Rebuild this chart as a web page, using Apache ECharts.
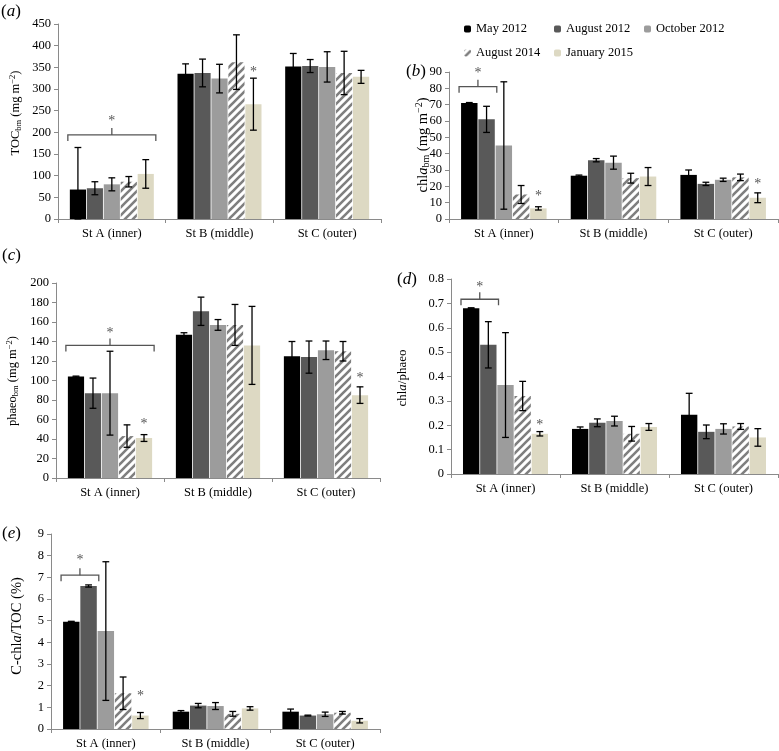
<!DOCTYPE html>
<html><head><meta charset="utf-8">
<script src="https://cdn.jsdelivr.net/npm/echarts@6/dist/echarts.min.js"></script>
<style>html,body{margin:0;padding:0;background:#fff}#c{width:779px;height:751px}</style>
</head><body><div id="c"></div>
<script>
const categories = ['St A (inner)', 'St B (middle)', 'St C (outer)'];
const seriesNames = ['May 2012', 'August 2012', 'October 2012', 'August 2014', 'January 2015'];

// (a) TOC_bm, rows = series, cols = stations
const tocMean = [[68, 335, 352], [71, 337, 353], [80, 324, 351], [86, 362, 337], [104, 265, 328]];
const tocErr  = [[97, 23, 30], [15, 32, 15], [15, 33, 35], [12, 63, 50], [33, 60, 15]];
// (b) chla_bm
const chlMean = [[71, 26.5, 27], [61, 36, 21.5], [45, 34.5, 24], [15, 25, 25.5], [6.5, 26, 13]];
const chlErr  = [[0.3, 0.4, 3], [8, 1, 1], [39, 4, 1], [5.5, 3, 2], [1, 5.5, 3]];
// (c) phaeo_bm
const phaMean = [[104, 147, 125], [87, 171, 124], [87, 157, 131], [43, 157, 130], [41, 136, 85]];
const phaErr  = [[0.5, 2, 15], [15.5, 14.5, 16.5], [43, 5.5, 9.5], [11.5, 21, 10], [3.5, 40, 8.5]];
// (d) chla/phaeo
const ratMean = [[0.68, 0.185, 0.243], [0.53, 0.21, 0.173], [0.365, 0.217, 0.185], [0.32, 0.165, 0.195], [0.165, 0.193, 0.15]];
const ratErr  = [[0.002, 0.008, 0.088], [0.095, 0.016, 0.028], [0.215, 0.02, 0.021], [0.06, 0.03, 0.012], [0.009, 0.014, 0.036]];
// (e) C-chla/TOC (%)
const pctMean = [[4.95, 0.8, 0.8], [6.6, 1.08, 0.62], [4.52, 1.06, 0.68], [1.65, 0.7, 0.75], [0.62, 0.95, 0.38]];
const pctErr  = [[0.02, 0.05, 0.12], [0.05, 0.1, 0.02], [3.2, 0.16, 0.1], [0.75, 0.11, 0.06], [0.14, 0.08, 0.1]];

// significance annotations: bracket [station, fromSeries, toSeries, value, starValue]
const tocBracket = [0, 0, 4, 194, 226];
const chlBracket = [0, 0, 1, 81, 89];
const phaBracket = [0, 0, 4, 136, 148];
const ratBracket = [0, 0, 1, 0.717, 0.765];
const pctBracket = [0, 0, 1, 7.1, 7.8];
// single stars [station, series, value]
const tocStars = [[1, 4, 338]];
const chlStars = [[0, 4, 14], [2, 4, 21.5]];
const phaStars = [[0, 4, 55], [2, 4, 102]];
const ratStars = [[0, 4, 0.198]];
const pctStars = [[0, 4, 1.5]];

// y axis ticks
const yAxes = [
  {max: 450, interval: 50},
  {max: 90, interval: 10},
  {max: 200, interval: 20},
  {max: 0.8, interval: 0.1},
  {max: 9, interval: 1}
];

const FONT = '"Liberation Serif", "DejaVu Serif", serif';

// hatch pattern
const hc = document.createElement('canvas');
hc.width = 8; hc.height = 8;
const hx = hc.getContext('2d');
hx.fillStyle = '#ffffff'; hx.fillRect(0, 0, 8, 8);
hx.strokeStyle = '#7f7f7f'; hx.lineWidth = 2.6;
hx.beginPath();
hx.moveTo(-2, 10); hx.lineTo(10, -2);
hx.moveTo(-6, 6); hx.lineTo(6, -6);
hx.moveTo(2, 14); hx.lineTo(14, 2);
hx.stroke();

const colors = ['#000000', '#595959', '#9c9c9c', {image: hc, repeat: 'repeat'}, '#ddd9c3'];

const grids = [
  {left: 58, top: 24, width: 323, height: 195},
  {left: 449, top: 72, width: 329, height: 147},
  {left: 56, top: 283, width: 324, height: 195},
  {left: 451, top: 279, width: 327, height: 195},
  {left: 51, top: 534, width: 329, height: 195}
];

function makeRich(size) {
  const sub = Math.round(size * 0.68 * 2) / 2;
  const off = Math.round(size * 0.5);
  return {
    n: {fontSize: size, fontFamily: FONT, fill: '#000'},
    i: {fontSize: size, fontFamily: FONT, fill: '#000', fontStyle: 'italic'},
    s: {fontSize: sub, fontFamily: FONT, fill: '#000', padding: [off, 0, 0, 0]},
    u: {fontSize: sub, fontFamily: FONT, fill: '#000', padding: [0, 0, off, 0]}
  };
}
const yNames = [
  '{n|TOC}{s|bm}{n| (mg m}{u|−2}{n|)}',
  '{n|chl}{i|a}{s|bm}{n| (mg m}{u|−2}{n|)}',
  '{n|phaeo}{s|bm}{n| (mg m}{u|−2}{n|)}',
  '{n|chl}{i|a}{n|/phaeo}',
  '{n|C-chl}{i|a}{n|/TOC (%)}'
];
// centre of each rotated y-axis title (page pixels) and its font size
const yNamePos = [[16, 113], [423, 145], [13, 381], [403, 378], [17, 626]];
const yNameSize = [12.5, 14.5, 12.5, 13, 14.5];

const panels = [
  {mean: tocMean, err: tocErr, bracket: tocBracket, stars: tocStars},
  {mean: chlMean, err: chlErr, bracket: chlBracket, stars: chlStars},
  {mean: phaMean, err: phaErr, bracket: phaBracket, stars: phaStars},
  {mean: ratMean, err: ratErr, bracket: ratBracket, stars: ratStars},
  {mean: pctMean, err: pctErr, bracket: pctBracket, stars: pctStars}
];

const CAT_GAP = 0.22, BAR_GAP = 0.05, NS = 5;
function barGeom(api, cat, s) {
  const c = api.coord([cat, 0]);
  const band = api.size([1, 0])[0];
  const w = band * (1 - CAT_GAP) / (NS + (NS - 1) * BAR_GAP);
  const total = NS * w + (NS - 1) * w * BAR_GAP;
  const left = c[0] - total / 2 + s * w * (1 + BAR_GAP);
  return {x: left + w / 2, left: left, right: left + w, w: w};
}

const axisLineStyle = {color: '#8a8a8a', width: 1};

const xAxis = [], yAxis = [], series = [];
grids.forEach((g, k) => {
  xAxis.push({
    type: 'category', gridIndex: k, data: categories,
    axisLine: {lineStyle: axisLineStyle},
    axisTick: {show: true, length: 4, lineStyle: axisLineStyle},
    axisLabel: {fontFamily: FONT, fontSize: 12.5, color: '#000', margin: 8}
  });
  yAxis.push({
    type: 'value', gridIndex: k, min: 0, max: yAxes[k].max, interval: yAxes[k].interval,
    axisLine: {show: true, lineStyle: axisLineStyle},
    axisTick: {show: true, length: 4, lineStyle: axisLineStyle},
    splitLine: {show: false},
    axisLabel: {fontFamily: FONT, fontSize: 12.5, color: '#000', margin: 7}
  });
  const p = panels[k];
  seriesNames.forEach((nm, s) => {
    series.push({
      type: 'bar', name: nm, xAxisIndex: k, yAxisIndex: k,
      data: p.mean[s], barCategoryGap: (CAT_GAP * 100) + '%', barGap: (BAR_GAP * 100) + '%',
      itemStyle: {color: colors[s]}, silent: true
    });
  });
  // error bars
  const errData = [];
  seriesNames.forEach((nm, s) => {
    categories.forEach((c, ci) => {
      const m = p.mean[s][ci], e = p.err[s][ci];
      errData.push([ci, s, Math.max(0, m - e), m + e]);
    });
  });
  series.push({
    type: 'custom', xAxisIndex: k, yAxisIndex: k, data: errData, silent: true, z: 5, clip: false,
    encode: {x: 0, y: [2, 3]},
    renderItem: function (params, api) {
      const ci = api.value(0), s = api.value(1);
      const g = barGeom(api, ci, s);
      const y1 = api.coord([ci, api.value(2)])[1];
      const y2 = api.coord([ci, api.value(3)])[1];
      const st = {stroke: '#000', lineWidth: 1.3};
      const cap = 3.4;
      return {type: 'group', children: [
        {type: 'line', shape: {x1: g.x, y1: y1, x2: g.x, y2: y2}, style: st},
        {type: 'line', shape: {x1: g.x - cap, y1: y1, x2: g.x + cap, y2: y1}, style: st},
        {type: 'line', shape: {x1: g.x - cap, y1: y2, x2: g.x + cap, y2: y2}, style: st}
      ]};
    }
  });
  // bracket + star
  series.push({
    type: 'custom', xAxisIndex: k, yAxisIndex: k, data: [p.bracket], silent: true, z: 6, clip: false,
    encode: {x: 0, y: 3},
    renderItem: function (params, api) {
      const ci = api.value(0);
      const a = barGeom(api, ci, api.value(1));
      const b = barGeom(api, ci, api.value(2));
      const xl = a.left - 2, xr = b.right + 2, xm = (xl + xr) / 2;
      const y = api.coord([ci, api.value(3)])[1];
      const ys = api.coord([ci, api.value(4)])[1];
      const st = {stroke: '#555', lineWidth: 1.3, fill: null};
      return {type: 'group', children: [
        {type: 'polyline', shape: {points: [[xl, y + 6], [xl, y], [xr, y], [xr, y + 6]]}, style: st},
        {type: 'line', shape: {x1: xm, y1: y, x2: xm, y2: y - 7}, style: st},
        {type: 'text', x: xm, y: ys, style: {text: '*', fill: '#555', font: '14px ' + FONT, align: 'center', verticalAlign: 'middle'}}
      ]};
    }
  });
  series.push({
    type: 'custom', xAxisIndex: k, yAxisIndex: k, data: p.stars, silent: true, z: 6, clip: false,
    encode: {x: 0, y: 2},
    renderItem: function (params, api) {
      const ci = api.value(0);
      const g = barGeom(api, ci, api.value(1));
      const y = api.coord([ci, api.value(2)])[1];
      return {type: 'text', x: g.x, y: y, style: {text: '*', fill: '#555', font: '14px ' + FONT, align: 'center', verticalAlign: 'middle'}};
    }
  });
});

const labelRich = {
  p: {fontSize: 17, fontFamily: FONT, fill: '#000'},
  i: {fontSize: 17, fontFamily: FONT, fill: '#000', fontStyle: 'italic'}
};
const panelLetters = [['a', 1, 3], ['b', 406, 63], ['c', 2, 247], ['d', 397, 271], ['e', 2, 525]];
const graphic = panelLetters.map(([l, x, y]) => ({
  type: 'text', left: x, top: y, silent: true,
  style: {text: '{p|(}{i|' + l + '}{p|)}', rich: labelRich}
}));
yNames.forEach((t, k) => {
  graphic.push({
    type: 'text', x: yNamePos[k][0], y: yNamePos[k][1], rotation: Math.PI / 2, silent: true,
    style: {text: t, rich: makeRich(yNameSize[k]), align: 'center', verticalAlign: 'middle', fontSize: yNameSize[k], fontFamily: FONT, fill: '#000'}
  });
});

const option = {
  animation: false,
  backgroundColor: '#fff',
  grid: grids.map(g => Object.assign({containLabel: false}, g)),
  xAxis: xAxis, yAxis: yAxis, series: series, graphic: graphic,
  legend: {
    data: seriesNames, left: 459, top: 16, width: 300,
    itemWidth: 7, itemHeight: 7, itemGap: 8,
    textStyle: {fontFamily: FONT, fontSize: 12.5, color: '#000', width: 70, lineHeight: 16},
    selectedMode: false
  }
};
const chart = echarts.init(document.getElementById('c'));
chart.setOption(option);
</script></body></html>
